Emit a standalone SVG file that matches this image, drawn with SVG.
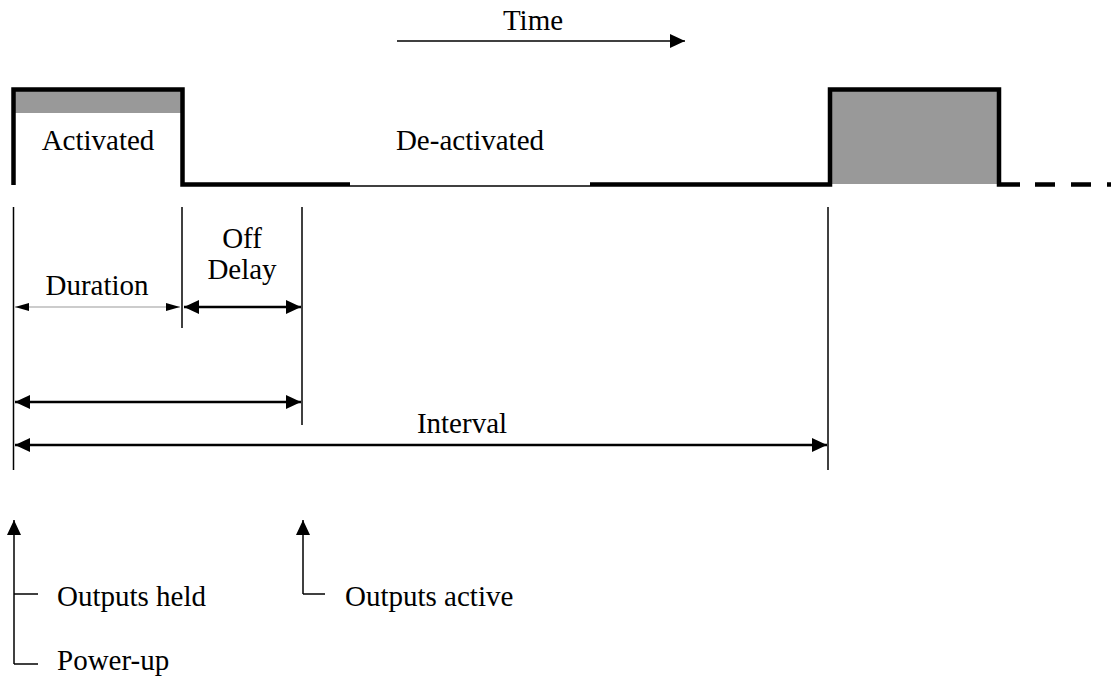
<svg xmlns="http://www.w3.org/2000/svg" width="1111" height="685" viewBox="0 0 1111 685">
<style>
text{font-family:"Liberation Serif","Times New Roman",serif;font-size:29px;fill:#000}
.sig{fill:none;stroke:#000;stroke-width:4.5}
.thin{stroke:#000;stroke-width:1.5;fill:none}
.dim{stroke:#000;stroke-width:2.5;fill:none}
.gray{fill:#999}
</style>
<defs>
<marker id="ah" viewBox="0 0 15 14" refX="15" refY="7" markerWidth="15" markerHeight="14" markerUnits="userSpaceOnUse" orient="auto-start-reverse"><path d="M0,0 L15,7 L0,14 Z" fill="#000"/></marker>
<marker id="ahs" viewBox="0 0 14 8" refX="14" refY="4" markerWidth="14" markerHeight="8" markerUnits="userSpaceOnUse" orient="auto-start-reverse"><path d="M0,0 L14,4 L0,8 Z" fill="#000"/></marker>
</defs>
<g id="time">
<line x1="397" y1="41" x2="685" y2="41" class="thin" stroke-width="2" marker-end="url(#ah)"/>
<text x="533" y="30" text-anchor="middle">Time</text>
</g>
<g id="signal">
<rect x="14" y="91" width="167" height="22" class="gray"/>
<rect x="831" y="90" width="167" height="94" class="gray"/>
<path d="M13.5,185 V89.5 H182.5 V184.5 H350" class="sig"/>
<line x1="350" y1="186" x2="590" y2="186" class="thin"/>
<path d="M590,184.5 H830 V89.5 H999 V184.5 H1020" class="sig"/>
<line x1="1020" y1="184.5" x2="1111" y2="184.5" class="sig" stroke-dasharray="0 15 20 16 20 16 20"/>
<text x="98" y="150" text-anchor="middle">Activated</text>
<text x="470" y="150" text-anchor="middle">De-activated</text>
</g>
<g id="connectors">
<line x1="13.5" y1="207" x2="13.5" y2="470" class="thin"/>
<line x1="182" y1="207" x2="182" y2="328" class="thin"/>
<line x1="302" y1="207" x2="302" y2="425" class="thin"/>
<line x1="828" y1="207" x2="828" y2="470" class="thin"/>
<line x1="15" y1="307" x2="180" y2="307" stroke="#bbb" stroke-width="1.5" marker-start="url(#ahs)" marker-end="url(#ahs)"/>
<line x1="184" y1="307" x2="301" y2="307" class="dim" marker-start="url(#ah)" marker-end="url(#ah)"/>
<line x1="15" y1="402" x2="301" y2="402" class="dim" marker-start="url(#ah)" marker-end="url(#ah)"/>
<line x1="15" y1="445" x2="827" y2="445" class="dim" marker-start="url(#ah)" marker-end="url(#ah)"/>
<path d="M14,664 V520" class="thin" stroke-width="2" marker-end="url(#ah)"/>
<line x1="14" y1="664" x2="38" y2="664" class="thin" stroke-width="2"/>
<line x1="14" y1="594" x2="38" y2="594" class="thin" stroke-width="2"/>
<path d="M303,594 V520" class="thin" stroke-width="2" marker-end="url(#ah)"/>
<line x1="303" y1="594" x2="325" y2="594" class="thin" stroke-width="2"/>
</g>
<g id="labels">
<text x="97" y="295" text-anchor="middle">Duration</text>
<text x="242" y="248" text-anchor="middle">Off</text>
<text x="242" y="279" text-anchor="middle">Delay</text>
<text x="462" y="433" text-anchor="middle">Interval</text>
<text x="57" y="606">Outputs held</text>
<text x="345" y="606">Outputs active</text>
<text x="57" y="670">Power-up</text>
</g>
</svg>
